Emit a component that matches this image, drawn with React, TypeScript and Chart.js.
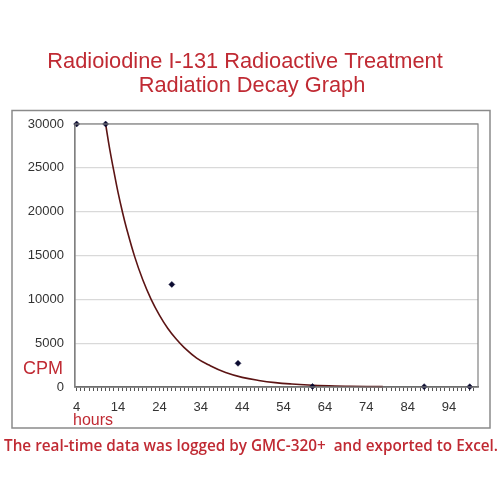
import React, { useEffect, useRef } from "react";
import { Chart, registerables } from "chart.js";

Chart.register(...registerables);

const TITLE_LINES = ["Radioiodine I-131 Radioactive Treatment", "Radiation Decay Graph"];
const FOOTER = "The real-time data was logged by GMC-320+  and exported to Excel.";
const Y_LABEL = "CPM";
const X_LABEL = "hours";

// measured samples (hours, CPM)
const sampleHours = [4, 11, 27, 43, 61, 88, 99];
const sampleCpm = [30000, 30000, 11700, 2700, 60, 40, 30];

// trendline (hours, CPM)
const trendHours = [11, 12, 13, 14, 15, 16, 18, 20, 22, 24, 26, 28, 30, 33, 36, 40, 44, 48, 52, 56, 60, 65, 70, 78];
const trendCpm = [30000, 27100, 24600, 22200, 20100, 18200, 14900, 12200, 10000, 8200, 6700, 5500, 4500, 3300, 2500, 1650, 1100, 750, 500, 340, 230, 140, 80, 40];

const xMajorTicks = [4, 14, 24, 34, 44, 54, 64, 74, 84, 94];
const yTicks = [0, 5000, 10000, 15000, 20000, 25000, 30000];

const RED = "#c02a33";

export default function App() {
  const ref = useRef<HTMLCanvasElement | null>(null);

  useEffect(() => {
    if (!ref.current) return;
    const decor = {
      id: "decor",
      beforeDraw(chart: any) {
        const { ctx } = chart;
        ctx.save();
        ctx.fillStyle = "#ffffff";
        ctx.fillRect(0, 0, chart.width, chart.height);
        ctx.restore();
      },
      afterDraw(chart: any) {
        const { ctx, chartArea } = chart;
        ctx.save();
        // outer frame
        ctx.strokeStyle = "#8a8a8a";
        ctx.lineWidth = 1.5;
        ctx.strokeRect(12, 110.5, 478, 317.5);
        // plot border
        ctx.strokeStyle = "#808080";
        ctx.lineWidth = 1.2;
        ctx.strokeRect(chartArea.left, chartArea.top, chartArea.right - chartArea.left, chartArea.bottom - chartArea.top);
        // title
        ctx.fillStyle = RED;
        ctx.font = '21.8px "Liberation Sans", Arial, sans-serif';
        ctx.textAlign = "center";
        ctx.textBaseline = "alphabetic";
        ctx.fillText(TITLE_LINES[0], 245, 68);
        ctx.fillText(TITLE_LINES[1], 252, 92);
        // axis labels
        ctx.font = '18px "Liberation Sans", Arial, sans-serif';
        ctx.textAlign = "right";
        ctx.textBaseline = "middle";
        ctx.fillText(Y_LABEL, 63, 369);
        ctx.font = '16px "Liberation Sans", Arial, sans-serif';
        ctx.textAlign = "left";
        ctx.fillText(X_LABEL, 73, 421);
        // footer
        ctx.font = '600 15.3px "Open Sans", sans-serif';
        ctx.textAlign = "center";
        ctx.fillText(FOOTER, 251, 447);
        ctx.restore();
      },
    };

    const chart = new Chart(ref.current, {
      type: "scatter",
      data: {
        datasets: [
          {
            label: "trend",
            data: trendHours.map((h, i) => ({ x: h, y: trendCpm[i] })),
            showLine: true,
            borderColor: "#5c1414",
            borderWidth: 1.6,
            pointRadius: 0,
            tension: 0.4,
            clip: false,
            order: 2,
          },
          {
            label: "CPM",
            data: sampleHours.map((h, i) => ({ x: h, y: sampleCpm[i] })),
            showLine: false,
            pointStyle: "rectRot",
            pointRadius: 3,
            backgroundColor: "#0a0a30",
            borderColor: "#0a0a30",
            borderWidth: 0.5,
            clip: false,
            order: 1,
          },
        ],
      },
      options: {
        animation: false,
        responsive: false,
        devicePixelRatio: 1,
        layout: { padding: { left: 0, top: 124, right: 22, bottom: 83 } },
        plugins: { legend: { display: false }, tooltip: { enabled: false }, title: { display: false } },
        scales: {
          x: {
            type: "linear",
            min: 3.6,
            max: 101,
            afterBuildTicks(scale: any) {
              const t: any[] = [];
              for (let v = 4; v <= 100; v++) t.push({ value: v });
              scale.ticks = t;
            },
            afterFit(scale: any) {
              scale.height = 30;
            },
            ticks: {
              autoSkip: false,
              maxRotation: 0,
              padding: 9,
              color: "#333333",
              font: { family: '"Liberation Sans", Arial, sans-serif', size: 13 },
              callback: (v: any) => (xMajorTicks.includes(Number(v)) ? String(v) : ""),
            },
            grid: { display: true, drawOnChartArea: false, drawTicks: true, tickLength: 4, color: "#555555", lineWidth: 1 },
            border: { display: true, color: "#555555", width: 1.5 },
          },
          y: {
            min: 0,
            max: 30000,
            afterBuildTicks(scale: any) {
              scale.ticks = yTicks.map((v) => ({ value: v }));
            },
            afterFit(scale: any) {
              scale.width = 75;
            },
            ticks: {
              padding: 11,
              color: "#333333",
              font: { family: '"Liberation Sans", Arial, sans-serif', size: 13 },
              callback: (v: any) => String(v),
            },
            grid: { display: true, drawTicks: false, color: "#d9d9d9", lineWidth: 1.2 },
            border: { display: true, color: "#808080", width: 1.2 },
          },
        },
      },
      plugins: [decor],
    });
    return () => chart.destroy();
  }, []);

  return (
    <div style={{ position: "absolute", left: 0, top: 0, width: 500, height: 500 }}>
      <canvas ref={ref} width={500} height={500} style={{ width: 500, height: 500 }} />
    </div>
  );
}
